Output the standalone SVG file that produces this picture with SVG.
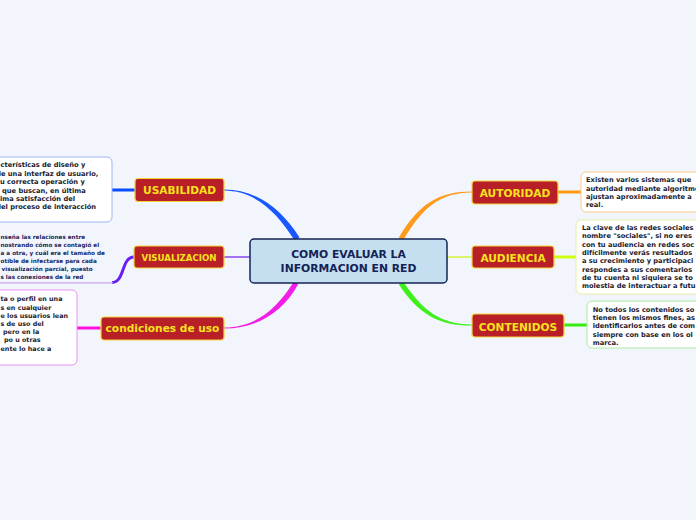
<svg xmlns="http://www.w3.org/2000/svg" width="696" height="520" viewBox="0 0 696 520">
<style>
.bg{fill:#f3f5fd}
.main rect{fill:#c5dff0;stroke:#142356;stroke-width:1.5}
.main text{font-family:"DejaVu Sans",Verdana,sans-serif;font-weight:bold;font-size:10.8px;fill:#142356;text-anchor:middle}
.topic rect{fill:#b91f27;stroke:#f3d43c;stroke-width:1.2}
.topic text{font-family:"DejaVu Sans",Verdana,sans-serif;font-weight:bold;font-size:10.6px;fill:#f7e21c;text-anchor:middle}
.sub rect{fill:#ffffff;stroke-width:1}
.sub text{font-family:"DejaVu Sans",Verdana,sans-serif;font-weight:bold;font-size:6.7px;fill:#1b1b2e}
.thin{fill:none;stroke-width:1.5}
.sc{fill:none;stroke-width:3}
</style>
<rect class="bg" x="0" y="0" width="696" height="520"/>
<g id="connectors">
<path d="M224,189.5 C255,189.3 281,208 299.5,237.5 L294.5,240.5 C277,212 255,190.7 224,190.5 Z" fill="#1a58ff"/>
<path d="M224,327.5 C255,327.3 276,310 293.8,281.7 L298.2,284.3 C282,314 255,328.7 224,328.5 Z" fill="#f21de6"/>
<path d="M472,191.5 C440,191.3 419,203 398.8,237.7 L403.2,240.3 C423,207 440,192.7 472,192.5 Z" fill="#ff9a1a"/>
<path d="M472,324.5 C440,324.3 423,311 403.1,281.6 L398.9,284.4 C419,315 440,325.7 472,325.5 Z" fill="#3cf01a"/>
<line class="thin" x1="224" y1="257" x2="250" y2="257" stroke="#8a44ee"/>
<line class="thin" x1="447" y1="257" x2="472" y2="257" stroke="#d2f53c"/>
<line class="sc" x1="135" y1="190" x2="112" y2="190" stroke="#0a4cff"/>
<path class="sc" d="M134,257 C121,257 125,282.5 112,282.5" stroke="#6a1cf5"/>
<line x1="113" y1="282.8" x2="0" y2="282.8" stroke="#c7a4f2" stroke-width="1.2"/>
<line class="sc" x1="101" y1="328" x2="77" y2="328" stroke="#ff10e0"/>
<line class="sc" x1="558" y1="192" x2="581" y2="192" stroke="#ff9a10"/>
<line class="sc" x1="554" y1="257" x2="576" y2="257" stroke="#ccff10"/>
<line class="sc" x1="564" y1="325" x2="587" y2="325" stroke="#33ee10"/>
</g>
<g id="center" class="main">
<rect x="250" y="239" width="197" height="44" rx="4"/>
<text x="348.5" y="258.3">COMO EVALUAR LA</text>
<text x="348.5" y="271.9">INFORMACION EN RED</text>
</g>
<g id="usabilidad" class="topic">
<rect x="135" y="178.5" width="89" height="23" rx="3"/>
<text x="179.5" y="194.2">USABILIDAD</text>
</g>
<g id="visualizacion" class="topic">
<rect x="134" y="246" width="90" height="22" rx="3"/>
<text x="179" y="260.5" style="font-size:8.6px">VISUALIZACION</text>
</g>
<g id="condiciones" class="topic">
<rect x="101" y="317" width="123" height="23" rx="3"/>
<text x="162.5" y="332">condiciones de uso</text>
</g>
<g id="autoridad" class="topic">
<rect x="472" y="181" width="86" height="23" rx="3"/>
<text x="515" y="196.5">AUTORIDAD</text>
</g>
<g id="audiencia" class="topic">
<rect x="472" y="246" width="82" height="22" rx="3"/>
<text x="513" y="261.5">AUDIENCIA</text>
</g>
<g id="contenidos" class="topic">
<rect x="472" y="314" width="92" height="23" rx="3"/>
<text x="518" y="330.5">CONTENIDOS</text>
</g>
<g id="usabilidad-note" class="sub">
<rect x="-10" y="157" width="122" height="65" rx="5" stroke="#9fb6f6"/>
<text x="0.5" y="167.4">cterísticas de diseño y</text>
<text x="-3.8" y="175.8">de una interfaz de usuario,</text>
<text x="0" y="184.2">u correcta operación y</text>
<text x="2" y="192.5">que buscan, en última</text>
<text x="0" y="200.9">ima satisfacción del</text>
<text x="-3.8" y="209.2">del proceso de interacción</text>
</g>
<g id="visualizacion-note" class="sub">
<text style="font-size:5.7px;fill:#1a2358">
<tspan x="0.5" y="238.7">nseña las relaciones entre</tspan>
<tspan x="0.5" y="246.8">nostrando cómo se contagió el</tspan>
<tspan x="0.5" y="254.9">a a otra, y cuál era el tamaño de</tspan>
<tspan x="0.5" y="263">otible de infectarse para cada</tspan>
<tspan x="1.5" y="271.1">visualización parcial, puesto</tspan>
<tspan x="0.5" y="279.2">s las conexiones de la red</tspan>
</text>
</g>
<g id="condiciones-note" class="sub">
<rect x="-10" y="290" width="87" height="75" rx="5" stroke="#eb92f2"/>
<text style="font-size:6.4px">
<tspan x="0.5" y="301.3">ta o perfil en una</tspan>
<tspan x="0.5" y="309.5">s en cualquier</tspan>
<tspan x="0.5" y="317.7">e los usuarios lean</tspan>
<tspan x="0.5" y="325.9">s de uso del</tspan>
<tspan x="3" y="334.1">pero en la</tspan>
<tspan x="4" y="342.3">po u otras</tspan>
<tspan x="0.5" y="350.5">ente lo hace a</tspan>
</text>
</g>
<g id="autoridad-note" class="sub">
<rect x="581" y="172" width="130" height="40" rx="5" stroke="#f9c98a"/>
<text x="586" y="182.3">Existen varios sistemas que</text>
<text x="586" y="190.6">autoridad mediante algoritmos</text>
<text x="586" y="198.9">ajustan aproximadamente a</text>
<text x="586" y="207.2">real.</text>
</g>
<g id="audiencia-note" class="sub">
<rect x="576" y="220" width="130" height="74" rx="5" stroke="#e2f0a4"/>
<text x="582" y="230">La clave de las redes sociales</text>
<text x="582" y="238.3">nombre "sociales", si no eres</text>
<text x="582" y="246.6">con tu audiencia en redes soc</text>
<text x="582" y="254.9">difícilmente verás resultados</text>
<text x="582" y="263.2">a su crecimiento y participaci</text>
<text x="582" y="271.5">respondes a sus comentarios</text>
<text x="582" y="279.8">de tu cuenta ni siquiera se to</text>
<text x="582" y="288.1">molestia de interactuar a futu</text>
</g>
<g id="contenidos-note" class="sub">
<rect x="587" y="301" width="120" height="47" rx="5" stroke="#a8eca2"/>
<text x="592.7" y="311.7">No todos los contenidos so</text>
<text x="592.7" y="320">tienen los mismos fines, as</text>
<text x="592.7" y="328.3">identificarlos antes de com</text>
<text x="592.7" y="336.6">siempre con base en los ol</text>
<text x="592.7" y="344.9">marca.</text>
</g>
</svg>
